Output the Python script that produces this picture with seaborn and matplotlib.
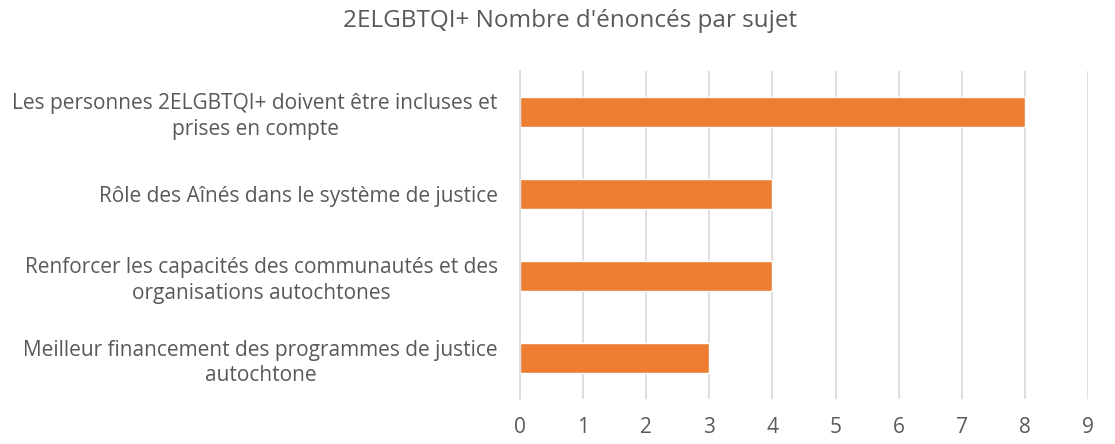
import matplotlib
matplotlib.use("Agg")
import matplotlib.pyplot as plt
import seaborn as sns
import pandas as pd

categories = [
    "Les personnes 2ELGBTQI+ doivent être incluses et\nprises en compte",
    "Rôle des Aînés dans le système de justice",
    "Renforcer les capacités des communautés et des\norganisations autochtones",
    "Meilleur financement des programmes de justice\nautochtone",
]
values = [8, 4, 4, 3]
x_ticks = list(range(0, 10))
title = "2ELGBTQI+ Nombre d'énoncés par sujet"

sns.set_theme(style="white")
plt.rcParams['font.family'] = ['Open Sans', 'DejaVu Sans']

TEXT = "#595959"
df = pd.DataFrame({"cat": categories, "val": values})

fig = plt.figure(figsize=(11.15, 4.44), dpi=100)
ax = fig.add_axes([520/1115, 1 - 399/444, 568/1115, 328/444])
sns.barplot(data=df, x="val", y="cat", color="#ED7D31", width=0.36,
            saturation=1, ax=ax, orient="h")
ax.set_xlim(0, 9)
ax.set_xticks(x_ticks)
ax.set_xlabel("")
ax.set_ylabel("")
ax.grid(axis="x", color="#D9D9D9", linewidth=1.2)
ax.set_axisbelow(True)
for s in ["top", "right", "bottom"]:
    ax.spines[s].set_visible(False)
ax.spines["left"].set_color("#D9D9D9")
ax.spines["left"].set_linewidth(1.2)
ax.tick_params(axis="both", length=0, colors=TEXT)
ax.tick_params(axis="x", pad=13, labelsize=15)
ax.tick_params(axis="y", pad=16, labelsize=15)
for lbl in ax.get_yticklabels():
    lbl.set_multialignment("center")
    lbl.set_color(TEXT)
    lbl.set_linespacing(1.3)
fig.suptitle(title, x=570/1115, y=0.98, va="top", fontsize=17.5, color=TEXT)
fig.savefig("out.png", dpi=100, facecolor="white")
